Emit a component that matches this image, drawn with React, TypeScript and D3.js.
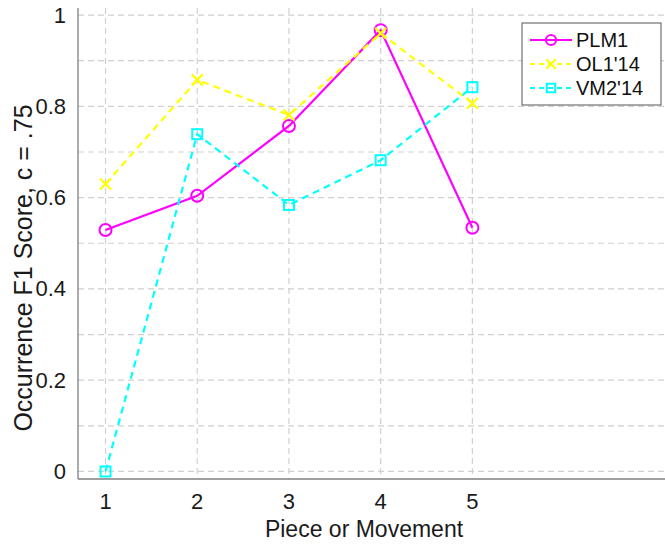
import { useMemo } from "react";
import * as d3 from "d3";

const pieces = [1, 2, 3, 4, 5];
const plm1 = [0.529, 0.604, 0.757, 0.967, 0.534];
const ol114 = [0.63, 0.858, 0.781, 0.96, 0.807];
const vm214 = [0.0, 0.739, 0.584, 0.682, 0.842];
const yTicks = [0, 0.2, 0.4, 0.6, 0.8, 1];
const yGrid = d3.range(0, 11).map((i) => i / 10);

const WIDTH = 665;
const HEIGHT = 544;
const FONT = "'Liberation Sans', Arial, Helvetica, sans-serif";

const seriesList = [
  { name: "PLM1", values: plm1, color: "#ff00ff", dash: "none", marker: "circle" },
  { name: "OL1'14", values: ol114, color: "#ffff00", dash: "7,5", marker: "x" },
  { name: "VM2'14", values: vm214, color: "#00ffff", dash: "7,5", marker: "square" },
];

function Marker({ type, x, y, color, size = 1 }: { type: string; x: number; y: number; color: string; size?: number }) {
  if (type === "circle") {
    return <circle cx={x} cy={y} r={6 * size} fill="none" stroke={color} strokeWidth={2} />;
  }
  if (type === "x") {
    const s = 5.5 * size;
    return (
      <path
        d={`M${x - s},${y - s}L${x + s},${y + s}M${x - s},${y + s}L${x + s},${y - s}`}
        stroke={color}
        strokeWidth={2.2}
      />
    );
  }
  const h = 5 * size;
  return <rect x={x - h} y={y - h} width={2 * h} height={2 * h} fill="none" stroke={color} strokeWidth={2} />;
}

export default function App() {
  const xScale = useMemo(() => d3.scaleLinear().domain([0.7, 7.1]).range([78, 665]), []);
  const yScale = useMemo(() => d3.scaleLinear().domain([-0.0165, 1.0155]).range([479, 8]), []);

  const line = d3
    .line<number>()
    .x((_, i) => xScale(pieces[i]))
    .y((d) => yScale(d));

  const left = xScale.range()[0];
  const right = xScale.range()[1];
  const bottom = yScale.range()[0];
  const top = yScale.range()[1];

  return (
    <svg
      width={WIDTH}
      height={HEIGHT}
      style={{ position: "absolute", left: 0, top: 0, background: "#fff" }}
      fontFamily={FONT}
    >
      {/* grid */}
      <g stroke="#d0d0d0" strokeWidth={1.2} strokeDasharray="6,4">
        {yGrid.map((t) => (
          <line key={"h" + t} x1={left} x2={right} y1={yScale(t)} y2={yScale(t)} />
        ))}
        {pieces.map((p) => (
          <line key={"v" + p} x1={xScale(p)} x2={xScale(p)} y1={top} y2={bottom} />
        ))}
      </g>

      {/* axes */}
      <g stroke="#7f7f7f" strokeWidth={1.3}>
        <line x1={left} x2={left} y1={top} y2={bottom} />
        <line x1={left} x2={right} y1={bottom} y2={bottom} />
      </g>

      <g fontSize={22} fill="#1a1a1a">
        {yTicks.map((t) => (
          <text key={t} x={left - 12} y={yScale(t)} textAnchor="end" dominantBaseline="central">
            {t === 0 || t === 1 ? String(t) : t.toFixed(1)}
          </text>
        ))}
        {pieces.map((p) => (
          <text key={p} x={xScale(p)} y={bottom + 30} textAnchor="middle">
            {p}
          </text>
        ))}
      </g>

      <text x={364} y={537} textAnchor="middle" fontSize={23} fill="#1a1a1a">
        Piece or Movement
      </text>
      <text
        transform={`translate(32,268) rotate(-90)`}
        textAnchor="middle"
        fontSize={25}
        fill="#1a1a1a"
      >
        Occurrence F1 Score, c = .75
      </text>

      {/* series */}
      {seriesList.map((s) => (
        <g key={s.name}>
          <path d={line(s.values) || ""} fill="none" stroke={s.color} strokeWidth={2.2} strokeDasharray={s.dash} />
          {s.values.map((v, i) => (
            <Marker key={i} type={s.marker} x={xScale(pieces[i])} y={yScale(v)} color={s.color} />
          ))}
        </g>
      ))}

      {/* legend */}
      <g>
        <rect x={522} y={23} width={139} height={82} fill="#fff" stroke="#555" strokeWidth={1} />
        {seriesList.map((s, i) => {
          const y = 40 + i * 24;
          return (
            <g key={s.name}>
              <line x1={530} x2={572} y1={y} y2={y} stroke={s.color} strokeWidth={2} strokeDasharray={s.dash === "none" ? "none" : "5,4"} />
              <Marker type={s.marker} x={551} y={y} color={s.color} size={0.85} />
              <text x={576} y={y} dominantBaseline="central" fontSize={20} fill="#111">
                {s.name}
              </text>
            </g>
          );
        })}
      </g>
    </svg>
  );
}
